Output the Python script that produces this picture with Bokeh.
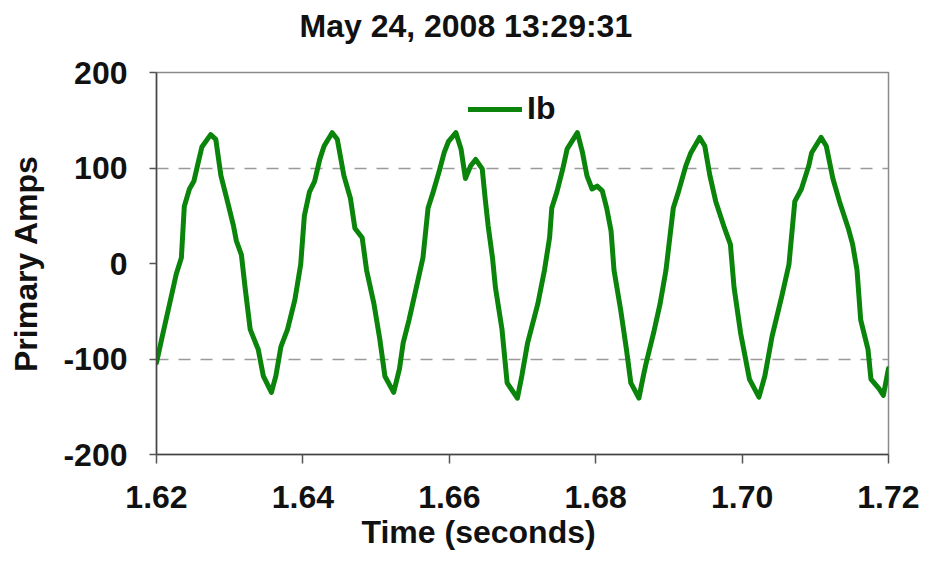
from bokeh.plotting import figure
from bokeh.models import (Range1d, FixedTicker, NumeralTickFormatter, Title,
                          Legend, LegendItem, ColumnDataSource)
from bokeh.embed import file_html
from bokeh.resources import INLINE

# ---- data ----
time_s = [1.6200, 1.6208, 1.6220, 1.6227, 1.6234, 1.6238, 1.6245, 1.6251, 1.6258, 1.6262,
          1.6274, 1.6281, 1.6288, 1.6296, 1.6305, 1.6309, 1.6316, 1.6321, 1.6328, 1.6339,
          1.6346, 1.6357, 1.6363, 1.6370, 1.6379, 1.6389, 1.6397, 1.6402, 1.6409, 1.6416,
          1.6423, 1.6429, 1.6440, 1.6447, 1.6456, 1.6465, 1.6471, 1.6481, 1.6487, 1.6497,
          1.6505, 1.6512, 1.6524, 1.6532, 1.6537, 1.6545, 1.6555, 1.6564, 1.6571, 1.6578,
          1.6586, 1.6593, 1.6599, 1.6609, 1.6616, 1.6622, 1.6629, 1.6636, 1.6645, 1.6649,
          1.6653, 1.6659, 1.6663, 1.6672, 1.6679, 1.6693, 1.6699, 1.6707, 1.6721, 1.6730,
          1.6737, 1.6740, 1.6747, 1.6755, 1.6761, 1.6775, 1.6782, 1.6788, 1.6795, 1.6802,
          1.6809, 1.6815, 1.6821, 1.6825, 1.6834, 1.6842, 1.6848, 1.6859, 1.6865, 1.6869,
          1.6879, 1.6888, 1.6896, 1.6906, 1.6913, 1.6923, 1.6930, 1.6942, 1.6949, 1.6956,
          1.6964, 1.6976, 1.6984, 1.6989, 1.6998, 1.7010, 1.7023, 1.7031, 1.7041, 1.7054,
          1.7064, 1.7072, 1.7081, 1.7091, 1.7095, 1.7108, 1.7115, 1.7124, 1.7133, 1.7145,
          1.7151, 1.7157, 1.7162, 1.7172, 1.7176, 1.7187, 1.7193, 1.7200]
ib_amps = [-104, -76, -35, -11, 6, 60, 78, 86, 109, 122,
           135, 130, 92, 68, 40, 24, 9, -25, -69, -90,
           -118, -135, -118, -87, -69, -38, -1, 50, 75, 86,
           109, 123, 137, 130, 92, 68, 37, 27, -7, -42,
           -79, -118, -135, -110, -83, -59, -25, 6, 58, 75,
           96, 116, 128, 137, 120, 89, 102, 109, 99, 68,
           40, 6, -25, -69, -125, -141, -118, -83, -42, -7,
           27, 58, 75, 99, 120, 137, 116, 92, 78, 81,
           76, 58, 34, -7, -48, -90, -125, -141, -118, -104,
           -73, -42, -7, 58, 75, 102, 116, 132, 123, 92,
           65, 37, 20, -25, -73, -121, -140, -118, -76, -35,
           -1, 65, 78, 102, 116, 132, 123, 89, 65, 37,
           20, -7, -59, -90, -121, -131, -138, -110]

x_ticks = [1.62, 1.64, 1.66, 1.68, 1.70, 1.72]
y_ticks = [-200, -100, 0, 100, 200]
grid_lines = [-100, 100]
title_text = "May 24, 2008 13:29:31"
x_label = "Time (seconds)"
y_label = "Primary Amps"
series_name = "Ib"

FONT = "Liberation Sans"
FS = "32px"
GREEN = "#0a840a"
INK = "#111111"

p = figure(width=919, height=551, output_backend="svg", toolbar_location=None,
           title=None,
           x_range=Range1d(1.62, 1.72), y_range=Range1d(-200, 200),
           min_border_left=156, min_border_right=31, min_border_top=72,
           min_border_bottom=94)
p.background_fill_color = "white"
p.border_fill_color = "white"
p.outline_line_color = "#8a8a8a"
p.outline_line_width = 1.5

src = ColumnDataSource(dict(t=time_s, ib=ib_amps))
r = p.line("t", "ib", source=src, line_color=GREEN, line_width=5,
           line_join="round", line_cap="round")

# grid
p.xgrid.visible = False
p.ygrid.ticker = FixedTicker(ticks=grid_lines)
p.ygrid.grid_line_color = "#9a9a9a"
p.ygrid.grid_line_dash = "12 10"
p.ygrid.grid_line_width = 1.5

# axes
for ax in (p.xaxis[0], p.yaxis[0]):
    ax.axis_line_color = "#444444"
    ax.axis_line_width = 1.5
    ax.major_tick_line_color = "#555555"
    ax.major_tick_line_width = 1.5
    ax.major_tick_in = 0
    ax.minor_tick_line_color = None
    ax.major_label_text_font = FONT
    ax.major_label_text_font_style = "bold"
    ax.major_label_text_font_size = FS
    ax.major_label_text_color = INK

p.xaxis.ticker = FixedTicker(ticks=x_ticks)
p.xaxis.formatter = NumeralTickFormatter(format="0.00")
p.xaxis.major_tick_out = 9
p.xaxis.major_label_standoff = 22

p.yaxis.ticker = FixedTicker(ticks=y_ticks)
p.yaxis.formatter = NumeralTickFormatter(format="0")
p.yaxis.major_tick_out = 7
p.yaxis.major_label_standoff = 22
p.yaxis.axis_label = y_label
p.yaxis.axis_label_text_font = FONT
p.yaxis.axis_label_text_font_style = "bold"
p.yaxis.axis_label_text_font_size = FS
p.yaxis.axis_label_text_color = INK
p.yaxis.axis_label_standoff = 16

# chart title: a thin spacer next to the frame, then the title text above it
spacer = Title(text=" ", text_font_size="1px", standoff=26)
main_title = Title(text=title_text, align="left", offset=143, standoff=0,
                   text_font=FONT, text_font_style="bold", text_font_size=FS,
                   text_color=INK)
p.add_layout(spacer, "above")
p.add_layout(main_title, "above")

# x-axis title
xt = Title(text=x_label, align="left", offset=205, standoff=3,
           text_font=FONT, text_font_style="bold", text_font_size=FS,
           text_color=INK)
p.add_layout(xt, "below")

legend = Legend(items=[LegendItem(label=series_name, renderers=[r])],
                location=(312, 327), orientation="vertical",
                border_line_color=None, background_fill_alpha=0,
                padding=0, margin=0, spacing=0,
                glyph_width=54, glyph_height=20, label_standoff=5,
                label_text_font=FONT, label_text_font_style="bold",
                label_text_font_size=FS, label_text_color=INK)
p.add_layout(legend, "center")

open("out.html", "w").write(file_html(p, INLINE))
